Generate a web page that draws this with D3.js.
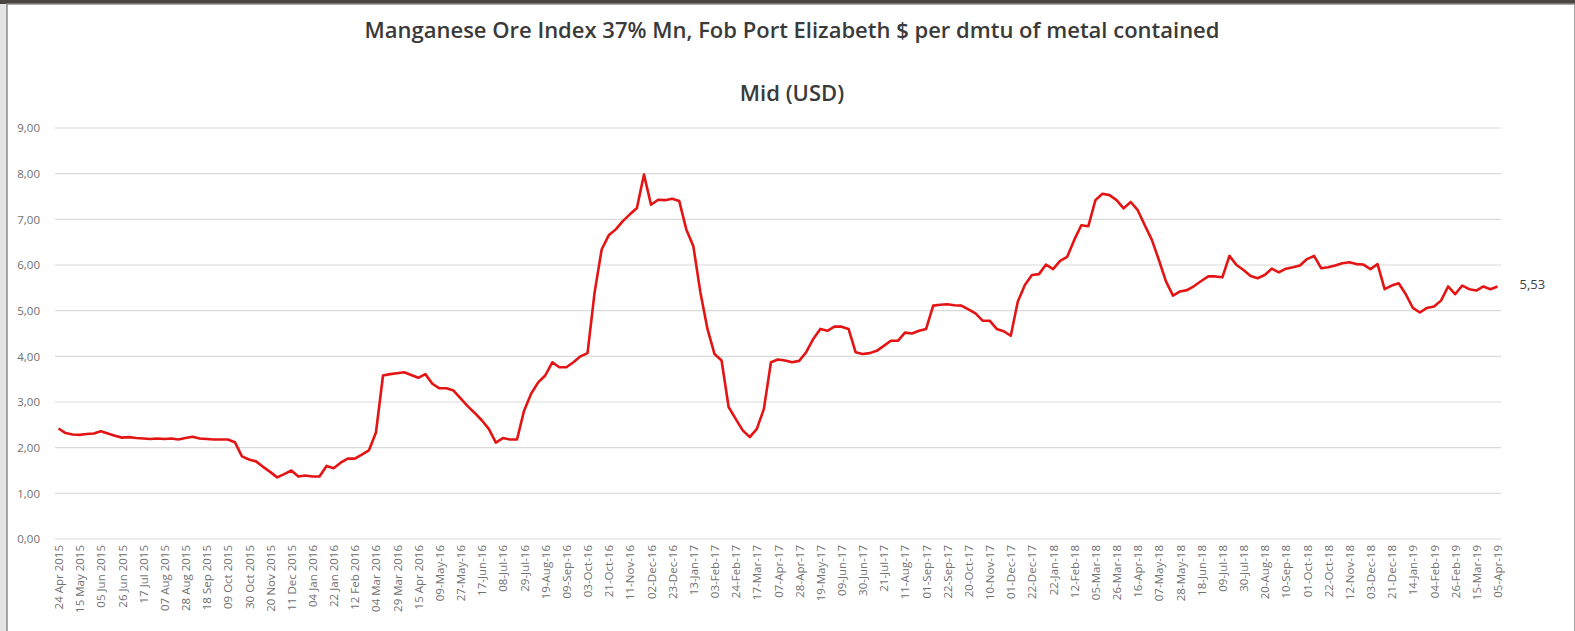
<!DOCTYPE html>
<html>
<head>
<meta charset="utf-8">
<script src="https://cdn.jsdelivr.net/npm/d3@7"></script>
<style>
  html, body { margin: 0; padding: 0; background: #ffffff; }
  svg { display: block; }
</style>
</head>
<body>
<div id="chart"></div>
<script>
// Weekly index, one label every third week
const tickLabels = [
  "24 Apr 2015", "15 May 2015", "05 Jun 2015", "26 Jun 2015", "17 Jul 2015", "07 Aug 2015",
  "28 Aug 2015", "18 Sep 2015", "09 Oct 2015", "30 Oct 2015", "20 Nov 2015", "11 Dec 2015",
  "04 Jan 2016", "22 Jan 2016", "12 Feb 2016", "04 Mar 2016", "29 Mar 2016", "15 Apr 2016",
  "09-May-16", "27-May-16", "17-Jun-16", "08-Jul-16", "29-Jul-16", "19-Aug-16",
  "09-Sep-16", "03-Oct-16", "21-Oct-16", "11-Nov-16", "02-Dec-16", "23-Dec-16",
  "13-Jan-17", "03-Feb-17", "24-Feb-17", "17-Mar-17", "07-Apr-17", "28-Apr-17",
  "19-May-17", "09-Jun-17", "30-Jun-17", "21-Jul-17", "11-Aug-17", "01-Sep-17",
  "22-Sep-17", "20-Oct-17", "10-Nov-17", "01-Dec-17", "22-Dec-17", "22-Jan-18",
  "12-Feb-18", "05-Mar-18", "26-Mar-18", "16-Apr-18", "07-May-18", "28-May-18",
  "18-Jun-18", "09-Jul-18", "30-Jul-18", "20-Aug-18", "10-Sep-18", "01-Oct-18",
  "22-Oct-18", "12-Nov-18", "03-Dec-18", "21-Dec-18", "14-Jan-19", "04-Feb-19",
  "26-Feb-19", "15-Mar-19", "05-Apr-19"
];
const labelEvery = 3;

const midValues = [
  2.42, 2.32, 2.29, 2.28, 2.30, 2.31, 2.36, 2.31, 2.26, 2.22,
  2.23, 2.21, 2.20, 2.19, 2.20, 2.19, 2.20, 2.18, 2.21, 2.24,
  2.20, 2.19, 2.18, 2.18, 2.18, 2.12, 1.81, 1.74, 1.70, 1.58,
  1.47, 1.35, 1.42, 1.50, 1.37, 1.39, 1.37, 1.37, 1.60, 1.55,
  1.67, 1.76, 1.76, 1.85, 1.94, 2.33, 3.58, 3.61, 3.63, 3.65,
  3.59, 3.53, 3.61, 3.40, 3.30, 3.30, 3.25, 3.08, 2.91, 2.76,
  2.60, 2.41, 2.11, 2.21, 2.18, 2.18, 2.81, 3.18, 3.43, 3.58,
  3.87, 3.76, 3.76, 3.87, 4.00, 4.07, 5.40, 6.34, 6.65, 6.78,
  6.96, 7.11, 7.25, 7.98, 7.32, 7.43, 7.42, 7.45, 7.40, 6.78,
  6.41, 5.40, 4.60, 4.05, 3.91, 2.89, 2.63, 2.38, 2.23, 2.41,
  2.85, 3.87, 3.93, 3.91, 3.87, 3.90, 4.09, 4.38, 4.60, 4.56,
  4.65, 4.65, 4.60, 4.09, 4.05, 4.07, 4.12, 4.23, 4.34, 4.34,
  4.52, 4.50, 4.56, 4.60, 5.11, 5.13, 5.14, 5.12, 5.11, 5.03,
  4.94, 4.78, 4.78, 4.60, 4.55, 4.45, 5.20, 5.56, 5.78, 5.80,
  6.01, 5.91, 6.09, 6.18, 6.55, 6.87, 6.85, 7.42, 7.56, 7.53,
  7.42, 7.24, 7.38, 7.20, 6.87, 6.55, 6.11, 5.64, 5.33, 5.42,
  5.45, 5.54, 5.65, 5.75, 5.75, 5.73, 6.20, 6.00, 5.89, 5.76,
  5.71, 5.78, 5.92, 5.84, 5.92, 5.95, 5.99, 6.13, 6.20, 5.93,
  5.95, 5.99, 6.04, 6.06, 6.02, 6.01, 5.91, 6.02, 5.47, 5.55,
  5.60, 5.36, 5.06, 4.96, 5.06, 5.09, 5.22, 5.53, 5.36, 5.55,
  5.47, 5.44, 5.53, 5.47, 5.53
];

const yTicks = [0, 1, 2, 3, 4, 5, 6, 7, 8, 9];

const title = "Manganese Ore Index 37% Mn, Fob Port Elizabeth $ per dmtu of metal contained";
const subtitle = "Mid (USD)";

const width = 1575;
const height = 631;

const plotLeft = 55;
const plotRight = 1501;
const plotTop = 128;
const plotBottom = 539;

const fmt = d3.format(".2f");
const comma = v => fmt(v).replace(".", ",");

const svg = d3.select("#chart")
  .append("svg")
    .attr("width", width)
    .attr("height", height)
    .attr("viewBox", [0, 0, width, height])
    .style("font-family", "'Open Sans', sans-serif");

// window frame round the chart
svg.append("rect")
    .attr("width", width).attr("height", height)
    .attr("fill", "#e4e4e4");
svg.append("rect")
    .attr("width", width).attr("height", 4)
    .attr("fill", "#4a4540");
svg.append("rect")
    .attr("x", 7).attr("y", 4)
    .attr("width", width - 7).attr("height", height)
    .attr("fill", "#ffffff")
    .attr("stroke", "#8a8a8a")
    .attr("stroke-width", 1.5);

const x = d3.scalePoint()
    .domain(d3.range(midValues.length))
    .range([plotLeft, plotRight])
    .padding(0.5);

const y = d3.scaleLinear()
    .domain([0, 9])
    .range([plotBottom, plotTop]);

// gridlines
svg.append("g")
  .selectAll("line")
  .data(yTicks)
  .join("line")
    .attr("x1", plotLeft)
    .attr("x2", plotRight)
    .attr("y1", d => y(d))
    .attr("y2", d => y(d))
    .attr("stroke", "#d9d9d9")
    .attr("stroke-width", 1.2);

// y axis labels
svg.append("g")
    .attr("transform", `translate(${plotLeft - 12},0)`)
    .call(d3.axisLeft(y).tickValues(yTicks).tickSize(0).tickFormat(comma))
    .call(g => g.select(".domain").remove())
    .call(g => g.selectAll("text")
      .attr("fill", "#707070")
      .style("font-family", "'Open Sans', sans-serif")
      .style("font-size", "11.5px"));

// x axis, labels rotated
const tickIdx = d3.range(0, midValues.length, labelEvery);
svg.append("g")
    .attr("transform", `translate(0,${plotBottom})`)
    .call(d3.axisBottom(x).tickValues(tickIdx).tickSize(0)
      .tickFormat(i => tickLabels[i / labelEvery]))
    .call(g => g.select(".domain").remove())
    .call(g => g.selectAll("text")
      .attr("fill", "#707070")
      .style("font-family", "'Open Sans', sans-serif")
      .style("font-size", "11.5px")
      .attr("text-anchor", "end")
      .attr("transform", "rotate(-90)")
      .attr("x", -6)
      .attr("y", 0)
      .attr("dy", "0.35em"));

// the series
const line = d3.line()
    .x((d, i) => x(i))
    .y(d => y(d));

svg.append("path")
    .datum(midValues)
    .attr("fill", "none")
    .attr("stroke", "#e41414")
    .attr("stroke-width", 2.6)
    .attr("stroke-linejoin", "round")
    .attr("d", line);

// value on the last point
const lastI = midValues.length - 1;
svg.append("text")
    .attr("x", x(lastI) + 22)
    .attr("y", y(midValues[lastI]) - 2)
    .attr("dy", "0.35em")
    .attr("fill", "#404040")
    .style("font-size", "13px")
    .text(comma(midValues[lastI]));

// titles
svg.append("text")
    .attr("x", 792)
    .attr("y", 30)
    .attr("dy", "0.35em")
    .attr("text-anchor", "middle")
    .attr("fill", "#3a3a3a")
    .style("font-size", "22px")
    .style("font-weight", "600")
    .text(title);

svg.append("text")
    .attr("x", 792)
    .attr("y", 93)
    .attr("dy", "0.35em")
    .attr("text-anchor", "middle")
    .attr("fill", "#3a3a3a")
    .style("font-size", "22px")
    .style("font-weight", "600")
    .text(subtitle);
</script>
</body>
</html>
